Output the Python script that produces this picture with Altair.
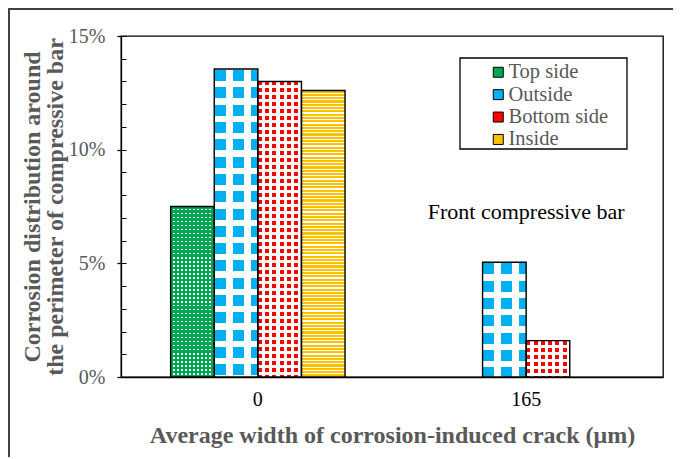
import altair as alt
import pandas as pd

# ---------------- data ----------------
groups = ["0", "0", "0", "0", "165", "165"]
sides = ["Top side", "Outside", "Bottom side", "Inside", "Outside", "Bottom side"]
values = [0.075, 0.1355, 0.130, 0.126, 0.0505, 0.016]

side_order = ["Top side", "Outside", "Bottom side", "Inside"]
side_colors = ["#00A651", "#00B0F0", "#FF0000", "#FFC000"]
group_order = ["0", "165"]
y_ticks = [0, 0.05, 0.10, 0.15]
minor_ticks = [0, 0.01, 0.02, 0.03, 0.04, 0.05, 0.06, 0.07, 0.08, 0.09,
               0.10, 0.11, 0.12, 0.13, 0.14, 0.15]
note_text = ["Front compressive bar"]
note_group = ["165"]
note_value = [0.0725]

x_title = "Average width of corrosion-induced crack (μm)"
y_title = ["Corrosion distribution around", "the perimeter of compressive bar"]

df = pd.DataFrame({"idx": list(range(len(values))), "group": groups,
                   "side": sides, "value": values})
note_df = pd.DataFrame({"group": note_group, "value": note_value, "text": note_text})
one = pd.DataFrame({"a": [0]})

# ---------------- layout ----------------
W, H = 542, 341
PAD_IN = 0.35
PAD_OUT = 0.185
YMAX = 0.15
STEP = W / (2 - PAD_IN + 2 * PAD_OUT)
BAR_W = STEP * (1 - PAD_IN) / 4
GRAY = "#595959"
FONT = "Liberation Serif"
CLEAR = "rgba(255,255,255,0)"


def band_grad(direction, size, period, width, center0, color):
    segs = []
    c = center0
    while c - period > -width:
        c -= period
    while c - width / 2 < size:
        a = max(0.0, c - width / 2)
        b = min(size, c + width / 2)
        if b > a:
            segs.append((a, b))
        c += period
    stops = []
    for a, b in segs:
        stops += [(a, CLEAR), (a, color), (b, color), (b, CLEAR)]
    st = [{"offset": round(o / size, 5), "color": col} for o, col in stops]
    g = {"gradient": "linear", "stops": st, "x1": 0, "y1": 0}
    if direction == "y":
        g.update({"x2": 0, "y2": 1})
    else:
        g.update({"x2": 1, "y2": 0})
    return g


def overlays(side, v):
    h = v / YMAX * H
    w = BAR_W
    if side == "Top side":
        g = side_colors[0]
        return ["white",
                band_grad("y", h, 4.0, 2.5, 1.25, g),
                band_grad("x", w, 4.0, 2.5, 1.25, g)]
    if side == "Outside":
        return [band_grad("y", h, 17.3, 6.3, 15.35, "white"),
                band_grad("x", w, 18.0, 7.0, 15.0, "white")]
    if side == "Bottom side":
        return [band_grad("y", h, 7.0, 3.0, 5.5, "white"),
                band_grad("x", w, 7.3, 3.3, 5.7, "white")]
    return [band_grad("y", h, 3.3, 1.2, 2.7, "white")]


X = alt.X("group:N",
          scale=alt.Scale(domain=group_order, paddingInner=PAD_IN, paddingOuter=PAD_OUT),
          axis=alt.Axis(title=x_title, ticks=False, labelAngle=0,
                        labelFont=FONT, labelFontSize=20, labelColor="black",
                        labelPadding=12, domainColor="black", domainWidth=1.3,
                        titleFont=FONT, titleFontSize=24, titleFontWeight="bold",
                        titleColor=GRAY, titlePadding=14))
XO = alt.XOffset("side:N", scale=alt.Scale(domain=side_order, paddingInner=0, paddingOuter=0))
YS = alt.Scale(domain=[0, YMAX], nice=False)
Y_none = alt.Y("value:Q", scale=YS, axis=None)

base = alt.Chart(df).mark_bar(strokeWidth=0).encode(
    x=X, xOffset=XO,
    y=alt.Y("value:Q", scale=YS,
            axis=alt.Axis(values=y_ticks, format=".0%", tickSize=4, tickColor="black",
                          tickWidth=1.3, domainColor="black", domainWidth=1.3,
                          labelColor=GRAY, labelFont=FONT, labelFontSize=20,
                          labelPadding=12, grid=False, title=y_title,
                          titleFont=FONT, titleFontSize=24, titleFontWeight="bold",
                          titleColor=GRAY, titlePadding=1, titleLineHeight=23)),
    color=alt.Color("side:N", scale=alt.Scale(domain=side_order, range=side_colors),
                    legend=alt.Legend(orient="none", legendX=367, legendY=26, title=None,
                                      padding=0, symbolType="square", symbolSize=100,
                                      symbolStrokeColor="black", symbolStrokeWidth=1,
                                      labelFont=FONT, labelFontSize=20.5, labelColor=GRAY,
                                      labelOffset=0, rowPadding=1.4)),
)

layers = [base]
for i, (s, v) in enumerate(zip(sides, values)):
    for fill in overlays(s, v):
        layers.append(
            alt.Chart(df).transform_filter(f"datum.idx == {i}")
            .mark_bar(fill=fill, strokeWidth=0)
            .encode(x=X, xOffset=XO, y=Y_none)
        )

outline = alt.Chart(df).mark_bar(fillOpacity=0, stroke="black", strokeWidth=1.4).encode(
    x=X, xOffset=XO,
    y=alt.Y("value:Q", scale=YS,
            axis=alt.Axis(orient="right", offset=-W, values=minor_ticks, labels=False,
                          domain=False, grid=False, title=None, tickSize=5,
                          tickColor="black", tickWidth=1)),
)
layers.append(outline)

note = alt.Chart(note_df).mark_text(font=FONT, fontSize=22, color="black").encode(
    x=X, y=alt.Y("value:Q", scale=YS, axis=None), text="text:N")
layers.append(note)

legend_box = alt.Chart(one).mark_rect(fillOpacity=0, stroke="black", strokeWidth=1.3).encode(
    x=alt.value(339), x2=alt.value(506), y=alt.value(22), y2=alt.value(113))
frame = alt.Chart(one).mark_rect(fillOpacity=0, stroke="#404040", strokeWidth=2).encode(
    x=alt.value(-112), x2=alt.value(700), y=alt.value(-27), y2=alt.value(600))
layers += [legend_box, frame]

chart = (
    alt.layer(*layers)
    .resolve_axis(y="independent")
    .properties(width=W, height=H, autosize="none",
                padding={"left": 113, "top": 28, "right": 10, "bottom": 80},
                background="white")
    .configure_view(stroke="black", strokeWidth=1.3)
    .configure_legend(labelFont=FONT)
)

chart.save("out.html", embed_options={"renderer": "svg", "actions": False})
